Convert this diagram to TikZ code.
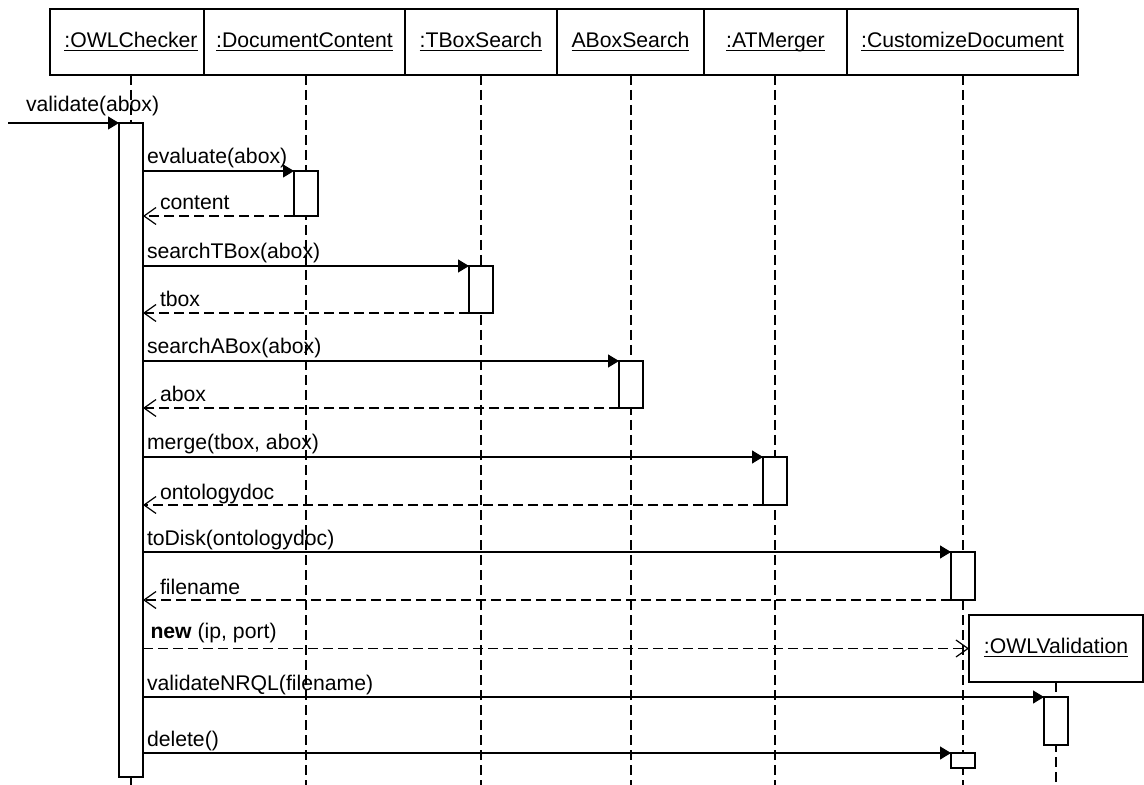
\documentclass[tikz,border=0pt]{standalone}
\usepackage{fontspec}
\setmainfont{Liberation Sans}
\usetikzlibrary{arrows.meta}
% underlined object name with a fixed baseline rule
\newcommand\objname[1]{\underline{\smash{#1}}\vphantom{A}}
\begin{document}
\begin{tikzpicture}[x=0.5pt,y=-0.5pt,
  font=\fontsize{10.6pt}{12pt}\selectfont,
  every node/.style={inner sep=0pt, outer sep=0pt},
  lw/.style={line width=0.6pt},
  head/.style={draw, line width=0.7pt, fill=white, minimum height=33pt},
  life/.style={lw, dash pattern=on 5pt off 2.5pt},
  act/.style={draw, lw, fill=white, minimum width=12pt},
  call/.style={lw, -{Triangle[length=5.5pt,width=6.5pt]}},
  ret/.style={lw, dash pattern=on 5pt off 2.5pt, -{Straight Barb[length=6pt,width=8.5pt]}},
  clbl/.style={anchor=base west, xshift=2pt, yshift=3.5pt},
  rlbl/.style={anchor=base west, xshift=8.5pt, yshift=3pt},
]
\useasboundingbox (0,0) rectangle (1144,785);

% object headers
\node[head, minimum width=77pt]   (h0) at (127,42)    {\hspace*{4pt}\objname{:OWLChecker}};
\node[head, minimum width=100.5pt](h1) at (304.5,42)  {\objname{:DocumentContent}};
\node[head, minimum width=76pt]   (h2) at (481,42)    {\objname{:TBoxSearch}};
\node[head, minimum width=73.5pt] (h3) at (630.5,42)  {\objname{ABoxSearch}};
\node[head, minimum width=71.5pt] (h4) at (775.5,42)  {\objname{:ATMerger}};
\node[head, minimum width=115.5pt](h5) at (962.5,42)  {\objname{:CustomizeDocument}};

% invisible placeholders fixing the lifeline positions
\coordinate (bot) at (0,785);
\path
  (131,450)   node[act, minimum height=327pt, draw=none, fill=none] (p0) {}
  (306,193.5) node[act, minimum height=22.5pt, draw=none, fill=none] (p1) {}
  (481,289.5) node[act, minimum height=23.5pt, draw=none, fill=none] (p2) {}
  (631,384.5) node[act, minimum height=23.5pt, draw=none, fill=none] (p3) {}
  (775,481)   node[act, minimum height=24pt, draw=none, fill=none] (p4) {}
  (963,576)   node[act, minimum height=24pt, draw=none, fill=none] (p5) {};

% lifelines
\draw[life] (p0.north |- h0.south) -- (p0.north);
\draw[life] (p0.south) -- (p0.south |- bot);
\draw[life] (p1.north |- h1.south) -- (p1.north |- bot);
\draw[life] (p2.north |- h2.south) -- (p2.north |- bot);
\draw[life] (p3.north |- h3.south) -- (p3.north |- bot);
\draw[life] (p4.north |- h4.south) -- (p4.north |- bot);
\draw[life] (p5.north |- h5.south) -- (p5.north |- bot);

% created object and its lifeline
\node[head, minimum width=87pt, minimum height=33.5pt] (h7) at (1056,648.5) {\objname{:OWLValidation}};
\draw[life] (h7.south) -- (h7.south |- bot);

% activation bars
\node[act, minimum height=327pt]  (a0) at (131,450) {};
\node[act, minimum height=22.5pt] (a1) at (306,193.5) {};
\node[act, minimum height=23.5pt] (a2) at (481,289.5) {};
\node[act, minimum height=23.5pt] (a3) at (631,384.5) {};
\node[act, minimum height=24pt]   (a4) at (775,481) {};
\node[act, minimum height=24pt]   (a5) at (963,576) {};
\node[act, minimum height=24pt]   (a6) at (1056,721) {};
\node[act, minimum height=7.5pt]  (a7) at (963,760.5) {};

% found message
\coordinate (src) at (8,123);
\draw[call] (src) -- node[pos=0, anchor=base west, xshift=9pt, yshift=5.5pt] (l0) {validate(abox)} (a0.north west);

% messages and replies
\draw[call] (a0.east |- a1.north) -- node[pos=0, clbl] (l1) {evaluate(abox)} (a1.north west);
\draw[ret]  (a1.south west) -- node[pos=1, rlbl] (r1) {content} (a0.east |- a1.south);

\draw[call] (a0.east |- a2.north) -- node[pos=0, clbl] (l2) {searchTBox(abox)} (a2.north west);
\draw[ret]  (a2.south west) -- node[pos=1, rlbl] (r2) {tbox} (a0.east |- a2.south);

\draw[call] (a0.east |- a3.north) -- node[pos=0, clbl] (l3) {searchABox(abox)} (a3.north west);
\draw[ret]  (a3.south west) -- node[pos=1, rlbl] (r3) {abox} (a0.east |- a3.south);

\draw[call] (a0.east |- a4.north) -- node[pos=0, clbl] (l4) {merge(tbox, abox)} (a4.north west);
\draw[ret]  (a4.south west) -- node[pos=1, rlbl] (r4) {ontologydoc} (a0.east |- a4.south);

\draw[call] (a0.east |- a5.north) -- node[pos=0, clbl] (l5) {toDisk(ontologydoc)} (a5.north west);
\draw[ret]  (a5.south west) -- node[pos=1, rlbl] (r5) {filename} (a0.east |- a5.south);

\draw[ret]  (a0.east |- h7.west) -- node[pos=0, anchor=base west, xshift=3.75pt, yshift=5pt] (l6) {\textbf{new} (ip, port)} (h7.west);

\draw[call] (a0.east |- a6.north) -- node[pos=0, clbl] (l7) {validateNRQL(filename)} (a6.north west);

\draw[call] (a0.east |- a7.north) -- node[pos=0, clbl] (l8) {delete()} (a7.north west);
\end{tikzpicture}
\end{document}
